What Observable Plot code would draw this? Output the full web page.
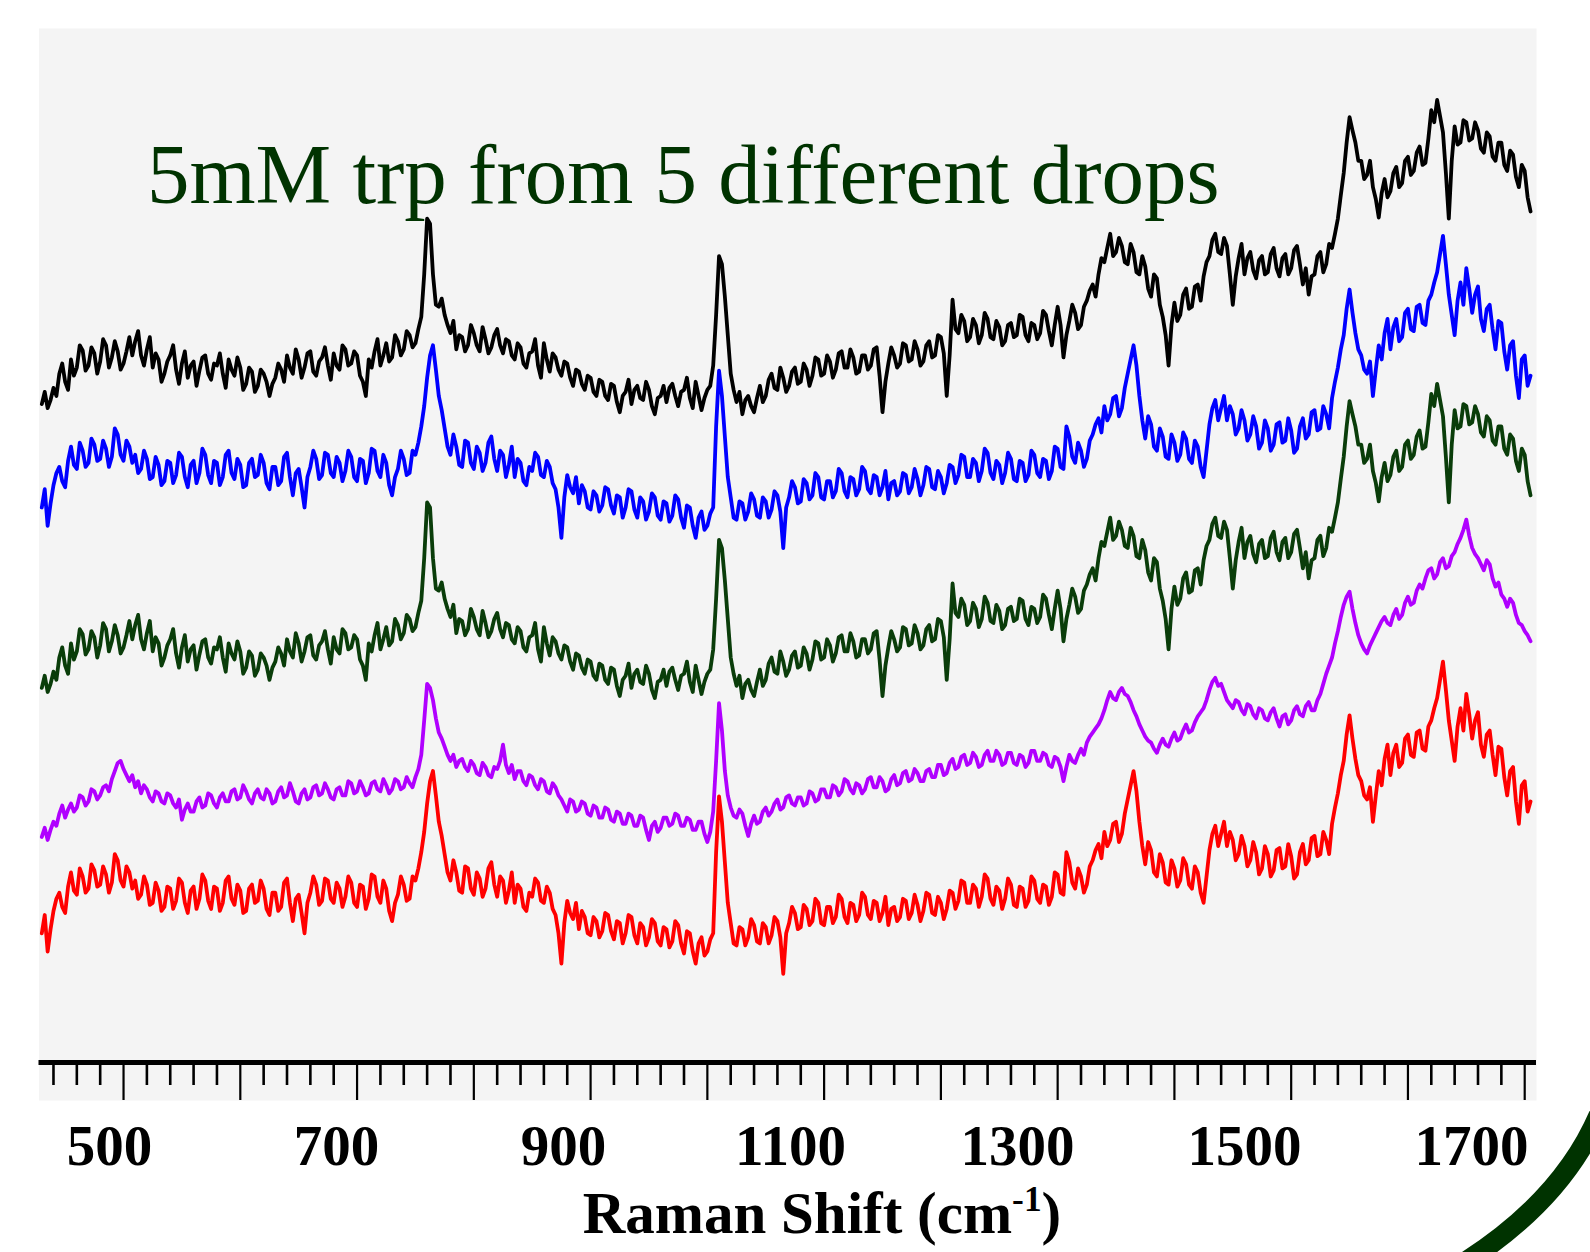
<!DOCTYPE html>
<html>
<head>
<meta charset="utf-8">
<script src="https://cdn.jsdelivr.net/npm/d3@7"></script>
<script src="https://cdn.jsdelivr.net/npm/@observablehq/plot@0.6"></script>
<style>
  html, body { margin: 0; padding: 0; background: #ffffff; }
  #wrap { position: relative; width: 1590px; height: 1252px; overflow: hidden; }
  #plots svg { display: block; }
  #title { position: absolute; left: 147px; top: 132px; font-family: "Liberation Serif", "Times New Roman", serif;
           font-size: 85px; line-height: 85px; color: #003300; white-space: nowrap; }
  #xlabel { position: absolute; left: 822px; top: 1184px; transform: translateX(-50%);
            font-family: "Liberation Serif", "Times New Roman", serif; font-weight: bold;
            font-size: 59px; line-height: 59px; color: #000; white-space: nowrap; }
  #xlabel sup { font-size: 0.6em; vertical-align: 0.62em; line-height: 0; }
  #deco { position: absolute; left: 0; top: 0; pointer-events: none; }
</style>
</head>
<body>
<div id="wrap">
  <div id="plots"></div>
  <div id="title">5mM trp from 5 different drops</div>
  <div id="xlabel">Raman Shift (cm<sup>-1</sup>)</div>
  <svg id="deco" width="1590" height="1252"><path d="M1598.7,1115 Q1562.2,1199.4 1466.5,1261" fill="none" stroke="#003300" stroke-width="20"/></svg>
</div>
<script>
// Raman shift sampling (cm-1)
const ramanShift = [
430,432.5,435,437.5,440,442.5,445,447.5,450,452.5,
455,457.5,460,462.5,465,467.5,470,472.5,475,477.5,
480,482.5,485,487.5,490,492.5,495,497.5,500,502.5,
505,507.5,510,512.5,515,517.5,520,522.5,525,527.5,
530,532.5,535,537.5,540,542.5,545,547.5,550,552.5,
555,557.5,560,562.5,565,567.5,570,572.5,575,577.5,
580,582.5,585,587.5,590,592.5,595,597.5,600,602.5,
605,607.5,610,612.5,615,617.5,620,622.5,625,627.5,
630,632.5,635,637.5,640,642.5,645,647.5,650,652.5,
655,657.5,660,662.5,665,667.5,670,672.5,675,677.5,
680,682.5,685,687.5,690,692.5,695,697.5,700,702.5,
705,707.5,710,712.5,715,717.5,720,722.5,725,727.5,
730,732.5,735,737.5,740,742.5,745,747.5,750,752.5,
755,757.5,760,762.5,765,767.5,770,772.5,775,777.5,
780,782.5,785,787.5,790,792.5,795,797.5,800,802.5,
805,807.5,810,812.5,815,817.5,820,822.5,825,827.5,
830,832.5,835,837.5,840,842.5,845,847.5,850,852.5,
855,857.5,860,862.5,865,867.5,870,872.5,875,877.5,
880,882.5,885,887.5,890,892.5,895,897.5,900,902.5,
905,907.5,910,912.5,915,917.5,920,922.5,925,927.5,
930,932.5,935,937.5,940,942.5,945,947.5,950,952.5,
955,957.5,960,962.5,965,967.5,970,972.5,975,977.5,
980,982.5,985,987.5,990,992.5,995,997.5,1000,1002.5,
1005,1007.5,1010,1012.5,1015,1017.5,1020,1022.5,1025,1027.5,
1030,1032.5,1035,1037.5,1040,1042.5,1045,1047.5,1050,1052.5,
1055,1057.5,1060,1062.5,1065,1067.5,1070,1072.5,1075,1077.5,
1080,1082.5,1085,1087.5,1090,1092.5,1095,1097.5,1100,1102.5,
1105,1107.5,1110,1112.5,1115,1117.5,1120,1122.5,1125,1127.5,
1130,1132.5,1135,1137.5,1140,1142.5,1145,1147.5,1150,1152.5,
1155,1157.5,1160,1162.5,1165,1167.5,1170,1172.5,1175,1177.5,
1180,1182.5,1185,1187.5,1190,1192.5,1195,1197.5,1200,1202.5,
1205,1207.5,1210,1212.5,1215,1217.5,1220,1222.5,1225,1227.5,
1230,1232.5,1235,1237.5,1240,1242.5,1245,1247.5,1250,1252.5,
1255,1257.5,1260,1262.5,1265,1267.5,1270,1272.5,1275,1277.5,
1280,1282.5,1285,1287.5,1290,1292.5,1295,1297.5,1300,1302.5,
1305,1307.5,1310,1312.5,1315,1317.5,1320,1322.5,1325,1327.5,
1330,1332.5,1335,1337.5,1340,1342.5,1345,1347.5,1350,1352.5,
1355,1357.5,1360,1362.5,1365,1367.5,1370,1372.5,1375,1377.5,
1380,1382.5,1385,1387.5,1390,1392.5,1395,1397.5,1400,1402.5,
1405,1407.5,1410,1412.5,1415,1417.5,1420,1422.5,1425,1427.5,
1430,1432.5,1435,1437.5,1440,1442.5,1445,1447.5,1450,1452.5,
1455,1457.5,1460,1462.5,1465,1467.5,1470,1472.5,1475,1477.5,
1480,1482.5,1485,1487.5,1490,1492.5,1495,1497.5,1500,1502.5,
1505,1507.5,1510,1512.5,1515,1517.5,1520,1522.5,1525,1527.5,
1530,1532.5,1535,1537.5,1540,1542.5,1545,1547.5,1550,1552.5,
1555,1557.5,1560,1562.5,1565,1567.5,1570,1572.5,1575,1577.5,
1580,1582.5,1585,1587.5,1590,1592.5,1595,1597.5,1600,1602.5,
1605,1607.5,1610,1612.5,1615,1617.5,1620,1622.5,1625,1627.5,
1630,1632.5,1635,1637.5,1640,1642.5,1645,1647.5,1650,1652.5,
1655,1657.5,1660,1662.5,1665,1667.5,1670,1672.5,1675,1677.5,
1680,1682.5,1685,1687.5,1690,1692.5,1695,1697.5,1700,1702.5,
1705];

// Intensities (arbitrary units), each relative to its own trace baseline
const drop1 = [
22,34,18,26,38,30,52,62,44,36,
66,50,58,80,75,55,60,78,72,52,
64,86,80,58,68,84,74,56,62,74,
88,70,84,94,70,60,76,88,58,72,
66,44,52,64,70,80,56,42,62,74,
48,60,64,40,55,68,70,52,46,62,
60,72,52,38,66,56,50,68,58,36,
42,58,54,34,40,56,52,44,30,42,
48,62,56,44,70,58,52,76,66,48,
58,72,74,54,50,64,68,78,60,46,
72,60,56,80,76,60,62,74,70,50,
44,30,66,58,74,86,60,70,82,64,
68,90,84,70,76,94,90,78,82,96,
108,150,205,200,150,120,118,126,110,100,
92,104,76,90,88,74,80,100,92,80,
74,98,86,72,78,90,96,80,72,86,
84,70,66,82,78,62,58,72,74,86,
60,48,82,66,54,72,68,56,50,64,
62,48,40,56,54,42,36,50,48,34,
30,46,44,30,26,42,40,24,14,30,
34,46,22,36,40,28,26,44,36,20,
12,28,30,40,24,38,42,30,20,34,
36,48,28,18,44,30,16,28,36,40,
60,110,168,160,128,90,52,36,24,34,
12,26,30,20,14,28,40,24,30,46,
52,38,36,58,48,34,40,54,58,42,
44,62,56,40,50,68,66,50,52,70,
64,48,56,72,74,58,58,76,68,52,
54,70,70,56,60,76,78,50,14,44,
62,78,70,58,62,82,80,64,66,84,
76,60,64,80,84,68,70,90,88,72,
30,70,125,96,92,110,104,84,88,106,
100,82,90,112,106,88,86,104,98,80,
84,100,102,88,90,110,108,90,84,102,
100,86,92,114,110,94,80,100,118,100,
68,90,104,120,112,96,100,118,124,134,
140,128,150,166,162,176,190,168,172,186,
178,162,160,180,172,152,150,168,158,136,
128,150,146,120,108,90,60,100,122,104,
110,130,136,116,118,138,140,124,148,162,
168,184,190,172,170,186,178,150,120,148,
166,180,150,166,172,154,146,164,168,150,
152,170,176,156,148,166,170,150,156,174,
178,160,140,156,130,148,150,168,172,152,
160,180,176,190,205,228,250,280,305,292,
280,262,262,244,248,262,236,224,206,230,
244,226,232,250,256,236,240,262,266,248,
252,270,276,258,260,284,312,300,322,306,
290,250,205,262,296,278,280,302,300,282,
284,300,292,274,270,290,286,266,262,280,
280,258,252,272,268,246,236,258,252,226,
212];

const drop2 = [
40,58,22,44,62,74,80,66,60,86,
100,82,78,104,96,80,84,108,102,86,
88,106,98,80,90,118,112,92,86,106,
100,84,92,74,78,96,88,68,70,90,
82,62,66,86,84,64,72,94,90,70,
60,82,86,64,74,98,92,72,64,86,
84,62,70,92,96,74,68,88,82,60,
62,84,88,70,72,92,84,64,58,80,
80,62,66,90,94,70,52,74,78,60,
40,70,80,96,88,68,72,94,92,74,
70,90,84,66,76,96,90,70,66,88,
86,64,74,98,96,76,70,92,84,62,
52,70,78,96,88,72,74,96,92,104,
120,140,168,190,200,176,150,136,118,100,
92,112,100,82,80,106,104,84,78,100,
94,76,84,104,110,88,76,96,92,70,
82,100,70,88,84,66,62,80,76,94,
90,72,70,86,80,64,58,40,10,50,
72,60,54,70,44,62,56,40,38,56,
52,36,42,60,58,42,34,52,50,30,
40,58,56,38,30,50,46,28,36,54,
50,32,28,46,44,26,32,52,48,30,
20,42,40,22,10,30,36,18,22,34,
40,120,175,150,110,70,50,30,28,46,
44,28,36,54,48,32,30,50,46,30,
38,56,52,36,0,40,50,66,60,44,
46,68,64,48,52,74,70,50,48,66,
66,50,56,78,74,56,50,70,68,52,
58,80,76,58,54,72,70,52,60,76,
48,64,66,52,56,74,72,54,60,78,
68,52,62,80,78,60,58,76,70,54,
64,82,80,64,72,92,90,70,70,88,
84,66,76,98,94,74,68,86,82,64,
74,94,88,68,66,86,84,66,72,96,
92,74,70,88,86,68,76,100,98,80,
78,120,110,90,84,104,96,80,88,106,
112,122,128,114,140,126,132,148,150,130,
138,158,172,186,200,180,150,126,108,130,
122,100,96,118,110,90,88,112,104,86,
92,114,108,88,84,106,100,80,70,96,
122,138,146,126,138,150,126,140,132,112,
118,136,126,106,112,130,120,98,104,126,
118,96,102,122,124,104,106,128,116,94,
98,120,128,108,112,134,136,116,118,140,
132,118,148,164,178,196,210,236,255,232,
212,196,190,176,172,184,150,176,200,186,
212,226,196,218,226,204,208,232,236,216,
214,238,240,222,220,244,250,262,272,290,
308,280,250,230,210,244,262,240,276,256,
232,250,258,226,214,236,240,216,196,224,
222,194,176,200,204,170,148,186,190,160,
170];

// the green trace in the picture is the same spectrum as drop 1
const drop3 = drop1;

const drop4 = [
15,24,12,22,30,26,38,46,34,42,
48,40,44,56,54,46,50,62,60,52,
56,64,66,60,72,80,88,90,82,76,
70,76,64,70,58,66,62,54,50,60,
58,50,48,58,56,48,44,52,32,42,
48,40,40,50,54,44,46,58,56,48,
44,54,58,50,50,60,62,52,54,66,
60,52,48,58,62,54,52,62,58,48,
50,60,64,54,56,68,60,50,48,58,
62,52,54,64,66,56,58,68,62,54,
52,62,64,56,56,70,68,58,60,70,
64,56,58,68,70,62,60,72,66,58,
62,72,70,62,64,74,68,64,74,82,
96,130,166,162,150,132,118,112,104,96,
90,96,84,90,92,84,80,90,86,78,
76,88,84,76,74,84,82,90,106,86,
78,86,72,80,80,70,66,76,74,66,
62,72,70,60,58,68,64,56,52,46,
40,52,50,40,42,50,48,38,36,46,
44,34,34,44,42,32,30,40,38,28,
28,38,36,26,26,36,34,22,12,26,
30,20,24,34,34,26,28,38,36,26,
26,34,32,22,22,30,30,18,10,20,
40,90,147,120,80,56,44,36,34,42,
38,26,16,28,36,28,30,40,44,36,
40,48,52,42,44,54,56,48,46,54,
54,46,48,60,58,50,52,62,62,54,
54,66,64,56,60,72,70,62,58,68,
66,58,62,72,74,64,64,74,70,60,
62,72,76,66,68,78,80,70,72,82,
78,70,70,80,82,74,74,86,86,76,
78,88,92,82,84,94,96,86,88,98,
94,84,86,96,100,90,90,100,96,86,
88,98,98,88,86,96,94,84,88,100,
100,90,90,98,96,86,84,94,92,84,
70,84,96,90,88,96,102,96,108,114,
118,122,126,132,140,150,158,152,150,158,
162,156,154,148,140,134,126,120,114,110,
108,102,98,106,112,106,104,112,118,110,
112,120,126,118,120,128,134,138,142,150,
160,168,172,164,166,158,150,146,142,150,
148,140,136,146,144,136,132,142,140,132,
130,138,142,132,124,134,136,126,130,140,
144,136,134,144,148,140,140,150,156,166,
176,184,192,206,218,232,244,252,257,240,
226,214,206,200,196,204,210,216,222,228,
232,226,224,234,240,230,234,246,252,244,
246,258,264,260,270,278,280,270,274,286,
290,280,282,292,296,304,310,318,328,312,
300,294,290,284,278,288,284,270,262,266,
254,250,242,250,246,234,226,224,218,214,
208];

// the red trace in the picture is the same spectrum as drop 2
const drop5 = drop2;

const seriesNames = ["Drop 1", "Drop 2", "Drop 3", "Drop 4", "Drop 5"];
const seriesColors = ["#000000", "#0000ff", "#0a3d0a", "#b000ff", "#ff0000"];
const seriesOffsets = [627.5, 507.5, 347.5, 207.5, 87.5];
const spectra = [drop1, drop2, drop3, drop4, drop5];

const majorTicks = [500, 600, 700, 800, 900, 1000, 1100, 1200, 1300, 1400, 1500, 1600, 1700];
const minorTicks = [440, 460, 480, 520, 540, 560, 580, 620, 640, 660, 680, 720, 740, 760, 780,
  820, 840, 860, 880, 920, 940, 960, 980, 1020, 1040, 1060, 1080, 1120, 1140, 1160, 1180,
  1220, 1240, 1260, 1280, 1320, 1340, 1360, 1380, 1420, 1440, 1460, 1480,
  1520, 1540, 1560, 1580, 1620, 1640, 1660, 1680];
const tickLabels = [500, 700, 900, 1100, 1300, 1500, 1700];

// table for the library
const rows = [];
spectra.forEach((vals, s) => {
  const n = Math.min(vals.length, ramanShift.length);
  for (let i = 0; i < n; i++) rows.push({shift: ramanShift[i], intensity: seriesOffsets[s] + vals[i], drop: seriesNames[s]});
});

const serif = '"Liberation Serif", "Times New Roman", serif';

const main = Plot.plot({
  width: 1590,
  height: 1100,
  marginLeft: 38.5,
  marginRight: 54,
  marginTop: 28,
  marginBottom: 38,
  x: {domain: [427.6, 1710.1]},
  y: {domain: [0, 1020], axis: null},
  color: {domain: seriesNames, range: seriesColors},
  style: {background: "transparent", overflow: "visible"},
  marks: [
    Plot.frame({fill: "#f4f4f4", stroke: "none", insetBottom: -38}),
    Plot.line(rows, {x: "shift", y: "intensity", z: "drop", stroke: "drop", strokeWidth: 3.8, strokeLinejoin: "round"}),
    Plot.ruleY([0], {stroke: "#000", strokeWidth: 5}),
    Plot.axisX(minorTicks, {tickSize: 23, strokeWidth: 2.6, tickFormat: () => "", label: null}),
    Plot.axisX(majorTicks, {tickSize: 38, strokeWidth: 2.2, tickFormat: () => "", label: null})
  ]
});

const labelAxis = Plot.plot({
  width: 1590,
  height: 100,
  marginLeft: 38.5,
  marginRight: 54,
  marginTop: 0,
  marginBottom: 99,
  x: {domain: [437.9, 1757.3]},
  style: {background: "transparent", overflow: "visible", fontFamily: serif, fontSize: "57px", fontWeight: "bold", color: "#000"},
  marks: [
    Plot.axisX(tickLabels, {tickSize: 0, tickPadding: 23.5, label: null, tickFormat: d => String(d),
      fontSize: 57, fontWeight: "bold", fontFamily: serif})
  ]
});

const holder = document.getElementById("plots");
holder.appendChild(main);
holder.appendChild(labelAxis);
</script>
</body>
</html>
